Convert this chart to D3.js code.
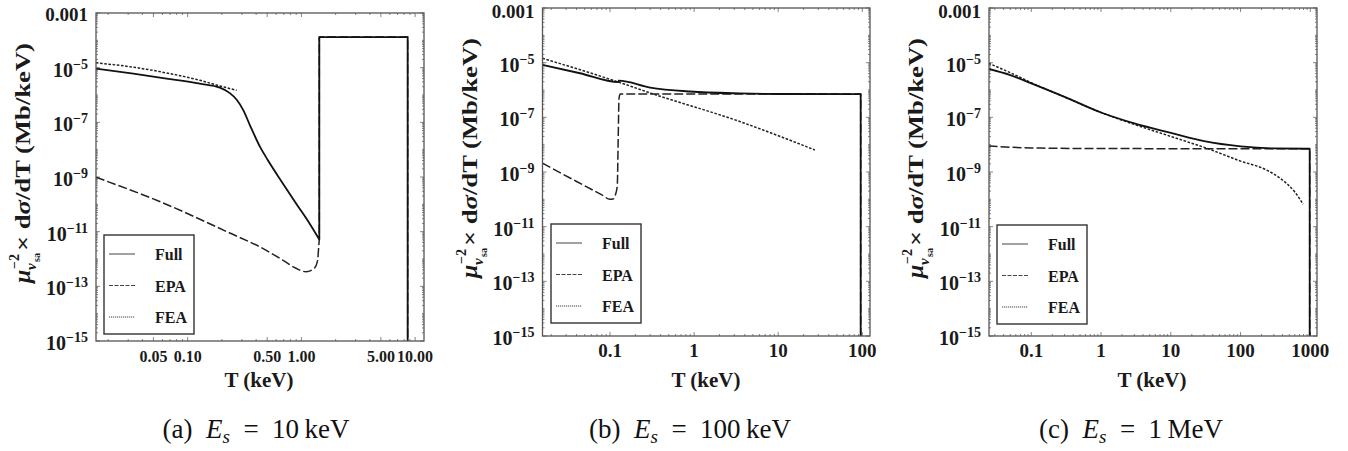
<!DOCTYPE html>
<html>
<head>
<meta charset="utf-8">
<script src="https://cdn.jsdelivr.net/npm/d3@7"></script>
<style>
  body { margin: 0; background: #fff; }
</style>
</head>
<body>
<svg id="chart" width="1348" height="451" font-family="Liberation Serif, Times New Roman, serif"></svg>
<script>
// every series is a list of [T (keV), dsigma/dT (Mb/keV)]
// 1e-16 marks a drop below the bottom of the frame

// (a) Es = 10 keV
const fullA = [[0.0156, 9.2e-6], [0.0333, 6.0e-6], [0.0653, 4.0e-6], [0.128, 2.6e-6], [0.192, 1.86e-6],
  [0.235, 1.17e-6], [0.27, 6.7e-7], [0.309, 2.75e-7], [0.353, 7.8e-8], [0.433, 1.26e-8], [0.506, 4.2e-9],
  [0.68, 6.2e-10], [0.895, 1.1e-10], [1.18, 2.0e-11], [1.437, 5.2e-12], [1.437, 1.32e-4], [8.6, 1.32e-4], [8.6, 1e-16]];
const epaA = [[0.0156, 9.8e-10], [0.06, 1.15e-10], [0.232, 9.1e-12], [0.457, 2.45e-12], [0.686, 9.1e-13],
  [0.895, 4.6e-13], [1.1, 3.4e-13], [1.3, 4.6e-13], [1.39, 9.1e-13], [1.42, 2.8e-12], [1.437, 5.2e-12],
  [1.437, 1.32e-4], [8.6, 1.32e-4], [8.6, 1e-16]];
const feaA = [[0.0156, 1.5e-5], [0.0333, 1.04e-5], [0.0653, 6.4e-6], [0.128, 3.45e-6], [0.192, 2.15e-6], [0.27, 1.48e-6]];

// (b) Es = 100 keV
const fullB = [[0.0157, 8.3e-6], [0.044, 4.1e-6], [0.126, 1.95e-6], [0.127, 2.2e-6], [0.3, 1.23e-6],
  [0.89, 8.8e-7], [3.5, 7.5e-7], [10, 7.15e-7], [95.7, 7.1e-7], [95.7, 1e-16]];
const epaB = [[0.0157, 2.1e-9], [0.04, 4.5e-10], [0.08, 1.45e-10], [0.1, 1.0e-10], [0.11, 1.05e-10],
  [0.115, 1.35e-10], [0.122, 3.1e-10], [0.125, 1.5e-8], [0.128, 5e-7], [0.132, 7.1e-7], [95.7, 7.1e-7], [95.7, 1e-16]];
const feaB = [[0.0157, 1.45e-5], [0.126, 1.95e-6], [0.3, 7.8e-7], [3.5, 7.0e-8], [27.3, 6.4e-9]];

// (c) Es = 1 MeV
const fullC = [[0.0244, 5.9e-6], [0.05, 3.5e-6], [0.1, 1.75e-6], [0.3, 5.6e-7], [1, 1.5e-7], [3, 6.0e-8],
  [10, 2.7e-8], [30, 1.35e-8], [100, 8.7e-9], [300, 7.3e-9], [980, 7.1e-9], [980, 1e-16]];
const epaC = [[0.0244, 8.9e-9], [0.1, 7.6e-9], [1, 7.2e-9], [980, 7.1e-9], [980, 1e-16]];
const feaC = [[0.0244, 9.5e-6], [0.05, 4.3e-6], [0.1, 1.85e-6], [0.3, 5.6e-7], [1, 1.5e-7], [3, 5.5e-8],
  [10, 2.0e-8], [37, 6.6e-9], [100, 2.5e-9], [224, 1.26e-9], [387, 5.4e-10], [605, 1.8e-10], [790, 6.6e-11]];

const xTicksA = [0.05, 0.1, 0.5, 1, 5, 10];
const xTicksB = [0.1, 1, 10, 100];
const xTicksC = [0.1, 1, 10, 100, 1000];
const yTicks = [1e-3, 1e-5, 1e-7, 1e-9, 1e-11, 1e-13, 1e-15];
const legendNames = ['Full', 'EPA', 'FEA'];
const captionTags = ['(a)', '(b)', '(c)'];
const captionEnergies = ['10', '100', '1'];
const captionUnits = ['keV', 'keV', 'MeV'];

const svg = d3.select('#chart');

const styles = {
  full: { dash: null, width: 1.8, color: '#111' },
  epa: { dash: '9,3', width: 1.5, color: '#222' },
  fea: { dash: '2.6,1.6', width: 1.5, color: '#222' }
};

const panels = [
  { left: 96, right: 424, top: 13, bottom: 341, xDomain: [0.01563, 11.97], xTicks: xTicksA, xFont: 16,
    fmt: d3.format('.2f'), full: fullA, epa: epaA, fea: feaA, legendX: 104, legendY: 235, xLabel: 259, capX: 256 },
  { left: 542.5, right: 870, top: 8, bottom: 336, xDomain: [0.01574, 123.5], xTicks: xTicksB, xFont: 19,
    fmt: d3.format('~g'), full: fullB, epa: epaB, fea: feaB, legendX: 551, legendY: 224, xLabel: 706, capX: 690 },
  { left: 989, right: 1317, top: 8, bottom: 336, xDomain: [0.02477, 1247], xTicks: xTicksC, xFont: 19,
    fmt: d3.format('~g'), full: fullC, epa: epaC, fea: feaC, legendX: 997, legendY: 225, xLabel: 1152, capX: 1131 }
];

function logMinors(domain) {
  const out = [];
  const k0 = Math.floor(Math.log10(domain[0])), k1 = Math.ceil(Math.log10(domain[1]));
  for (let k = k0; k <= k1; k++) {
    for (let m = 1; m <= 9; m++) {
      const v = m * Math.pow(10, k);
      if (v >= domain[0] && v <= domain[1]) out.push(v);
    }
  }
  return out;
}

function isIn(list, v) {
  return list.some(t => Math.abs(Math.log10(t) - Math.log10(v)) < 1e-6);
}

// smooth pieces joined by straight vertical jumps (points sharing the same T)
function seriesPath(series, x, y) {
  const line = d3.line()
    .x(function (d) { return x(d[0]); })
    .y(function (d) { return y(d[1]); })
    .curve(d3.curveMonotoneX);
  const chunks = [[series[0]]];
  for (let k = 1; k < series.length; k++) {
    if (series[k][0] === series[k - 1][0]) chunks.push([series[k]]);
    else chunks[chunks.length - 1].push(series[k]);
  }
  return chunks.map(function (c, j) {
    const s = line(c).replace(/Z$/, '');
    return j === 0 ? s : 'L' + s.slice(1);
  }).join('');
}

function drawPanel(p, i) {
  const g = svg.append('g');
  const x = d3.scaleLog().domain(p.xDomain).range([p.left, p.right]);
  const y = d3.scaleLog().domain([1e-15, 1e-3]).range([p.bottom, p.top]);

  const clipId = 'clip' + i;
  g.append('clipPath').attr('id', clipId)
    .append('rect')
    .attr('x', p.left).attr('y', p.top)
    .attr('width', p.right - p.left).attr('height', p.bottom - p.top);

  // ticks on all four sides, pointing inwards
  const ticks = g.append('g').attr('stroke', '#666').attr('stroke-width', 0.8);
  logMinors(p.xDomain).forEach(function (v) {
    const len = isIn(p.xTicks, v) ? 4 : 2;
    const px = x(v);
    ticks.append('line').attr('x1', px).attr('x2', px).attr('y1', p.bottom).attr('y2', p.bottom - len);
    ticks.append('line').attr('x1', px).attr('x2', px).attr('y1', p.top).attr('y2', p.top + len);
  });
  logMinors([1e-15, 1e-3]).forEach(function (v) {
    const len = isIn(yTicks, v) ? 4 : 2;
    const py = y(v);
    ticks.append('line').attr('y1', py).attr('y2', py).attr('x1', p.left).attr('x2', p.left + len);
    ticks.append('line').attr('y1', py).attr('y2', py).attr('x1', p.right).attr('x2', p.right - len);
  });

  // curves
  const curves = g.append('g').attr('clip-path', 'url(#' + clipId + ')');
  ['epa', 'fea', 'full'].forEach(function (key) {
    const s = styles[key];
    curves.append('path')
      .attr('d', seriesPath(p[key], x, y))
      .attr('fill', 'none')
      .attr('stroke', s.color)
      .attr('stroke-width', s.width)
      .attr('stroke-dasharray', s.dash)
      .attr('stroke-linejoin', 'round');
  });

  // frame
  g.append('rect')
    .attr('x', p.left).attr('y', p.top)
    .attr('width', p.right - p.left).attr('height', p.bottom - p.top)
    .attr('fill', 'none').attr('stroke', '#555').attr('stroke-width', 1.3);

  // x tick labels
  g.selectAll('text.xt')
    .data(p.xTicks)
    .enter()
    .append('text')
    .attr('class', 'xt')
    .attr('x', function (d) { return x(d); })
    .attr('y', p.bottom + 21)
    .attr('text-anchor', 'middle')
    .attr('font-size', p.xFont + 'px')
    .attr('font-weight', 'bold')
    .attr('fill', '#1a1a1a')
    .text(function (d) { return p.fmt(d); });

  // y tick labels
  yTicks.forEach(function (v) {
    const t = g.append('text')
      .attr('x', p.left - 8)
      .attr('y', y(v) + 9)
      .attr('text-anchor', 'end')
      .attr('font-size', '20px')
      .attr('font-weight', 'bold')
      .attr('fill', '#1a1a1a');
    if (v === 1e-3) {
      t.attr('y', Math.max(y(v) + 8, 18)).attr('font-size', '19px').text('0.001');
    } else {
      t.append('tspan').text('10');
      t.append('tspan').attr('font-size', '14px').attr('dy', -8)
        .text('\u2212' + Math.round(-Math.log10(v)));
    }
  });

  // axis titles
  g.append('text')
    .attr('x', p.xLabel).attr('y', 387)
    .attr('text-anchor', 'middle')
    .attr('font-size', '21px').attr('font-weight', 'bold')
    .attr('fill', '#1a1a1a')
    .text('T (keV)');

  const yl = g.append('g')
    .attr('transform', 'translate(' + (p.left - 66) + ',' + (p.top + 270) + ') rotate(-90)')
    .attr('fill', '#1a1a1a').attr('font-weight', 'bold');
  yl.append('text').attr('x', 0).attr('y', 0).attr('font-size', '24px').attr('font-style', 'italic').text('\u03bc');
  yl.append('text').attr('x', 14).attr('y', -11).attr('font-size', '14px').text('\u22122');
  yl.append('text').attr('x', 13).attr('y', 6).attr('font-size', '15px').attr('font-style', 'italic').text('\u03bd');
  yl.append('text').attr('x', 21).attr('y', 10).attr('font-size', '10px').text('sa');
  const main = yl.append('text').attr('x', 32).attr('y', 0).attr('font-size', '22px')
    .attr('textLength', 208).attr('lengthAdjust', 'spacingAndGlyphs');
  main.append('tspan').text('\u00d7 d');
  main.append('tspan').attr('font-style', 'italic').text('\u03c3');
  main.append('tspan').text('/dT (Mb/keV)');

  // legend
  const lg = g.append('g').attr('transform', 'translate(' + p.legendX + ',' + p.legendY + ')');
  lg.append('rect').attr('width', 90).attr('height', 99)
    .attr('fill', '#fff').attr('stroke', '#333').attr('stroke-width', 1.4);
  ['full', 'epa', 'fea'].forEach(function (key, j) {
    const ry = 19 + j * 31.5;
    lg.append('line')
      .attr('x1', 5).attr('x2', 31).attr('y1', ry).attr('y2', ry)
      .attr('stroke', '#444').attr('stroke-width', 1)
      .attr('stroke-dasharray', key === 'full' ? null : (key === 'epa' ? '4,1.5' : '1.2,0.8'));
    lg.append('text')
      .attr('x', 51).attr('y', ry + 6)
      .attr('font-size', '16px').attr('font-weight', 'bold')
      .attr('fill', '#1a1a1a')
      .text(legendNames[j]);
  });

  // caption
  const cap = svg.append('text')
    .attr('x', p.capX).attr('y', 438)
    .attr('text-anchor', 'middle')
    .attr('font-size', '27px')
    .attr('fill', '#111');
  cap.append('tspan').text(captionTags[i] + '\u2002');
  cap.append('tspan').attr('font-style', 'italic').text('E');
  cap.append('tspan').attr('font-style', 'italic').attr('font-size', '19px').attr('dy', 5).text('s');
  cap.append('tspan').attr('dy', -5).text('\u2002=\u2002' + captionEnergies[i] + '\u2009' + captionUnits[i]);
}

panels.forEach(drawPanel);
</script>
</body>
</html>
